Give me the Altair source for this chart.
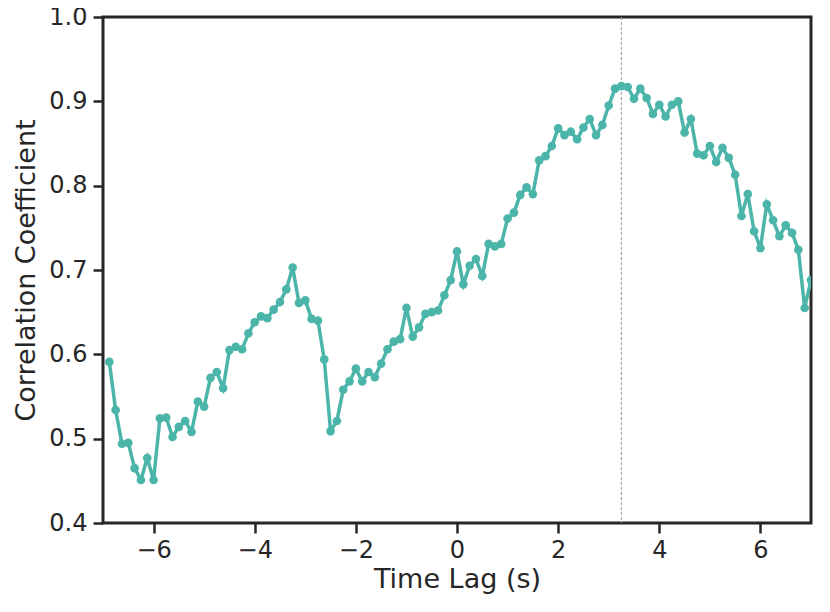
import altair as alt
import pandas as pd

lag_start = -6.875
lag_step = 0.125
corr = [
    0.591, 0.534, 0.494, 0.495, 0.465, 0.451, 0.477, 0.451, 0.524, 0.525,
    0.502, 0.514, 0.521, 0.508, 0.544, 0.538, 0.572, 0.579, 0.560, 0.605,
    0.609, 0.606, 0.625, 0.638, 0.645, 0.643, 0.653, 0.662, 0.677, 0.703,
    0.661, 0.664, 0.642, 0.640, 0.594, 0.509, 0.521, 0.558, 0.568, 0.583,
    0.568, 0.579, 0.573, 0.589, 0.606, 0.615, 0.618, 0.655, 0.621, 0.632,
    0.648, 0.650, 0.652, 0.670, 0.688, 0.722, 0.683, 0.705, 0.713, 0.693,
    0.731, 0.728, 0.731, 0.761, 0.768, 0.789, 0.798, 0.790, 0.830, 0.835,
    0.847, 0.868, 0.860, 0.864, 0.855, 0.869, 0.879, 0.860, 0.872, 0.895,
    0.915, 0.918, 0.917, 0.903, 0.915, 0.904, 0.885, 0.896, 0.882, 0.896,
    0.900, 0.863, 0.879, 0.838, 0.836, 0.847, 0.828, 0.845, 0.833, 0.813,
    0.764, 0.790, 0.746, 0.726, 0.778, 0.759, 0.740, 0.753, 0.744, 0.724,
    0.655, 0.688,
]
lags = [lag_start + lag_step * i for i in range(len(corr))]
peak_lag = [3.25]

df = pd.DataFrame({"lag": lags, "corr": corr})
peak_df = pd.DataFrame({"lag": peak_lag})

teal = "#4cb5aa"
dark = "#262626"

x_scale = alt.Scale(domain=[-7, 7], nice=False, zero=False)
y_scale = alt.Scale(domain=[0.4, 1.0], nice=False, zero=False)

x_axis = alt.Axis(
    title="Time Lag (s)", values=[-6, -4, -2, 0, 2, 4, 6], format="d",
    grid=False, domain=False, labelFontSize=24, titleFontSize=27,
    labelPadding=5, titlePadding=4, tickSize=10, tickWidth=2.5,
    tickColor=dark, labelColor=dark, titleColor=dark, titleFontWeight="normal",
    labelFont="DejaVu Sans", titleFont="DejaVu Sans",
)
y_axis = alt.Axis(
    title="Correlation Coefficient", values=[0.4, 0.5, 0.6, 0.7, 0.8, 0.9, 1.0],
    format=".1f", grid=False, domain=False, labelFontSize=24, titleFontSize=27,
    labelPadding=6, titlePadding=8, tickSize=10, tickWidth=2.5,
    tickColor=dark, labelColor=dark, titleColor=dark, titleFontWeight="normal",
    labelFont="DejaVu Sans", titleFont="DejaVu Sans",
)

line = alt.Chart(df).mark_line(
    color=teal, strokeWidth=3.5, clip=True,
).encode(
    x=alt.X("lag:Q", scale=x_scale, axis=x_axis),
    y=alt.Y("corr:Q", scale=y_scale, axis=y_axis),
)

dots = alt.Chart(df).mark_circle(
    color=teal, size=75, opacity=1, clip=True,
).encode(
    x=alt.X("lag:Q", scale=x_scale),
    y=alt.Y("corr:Q", scale=y_scale),
)

vline = alt.Chart(peak_df).mark_rule(
    color="#999999", strokeWidth=1, strokeDash=[3, 2]
).encode(x=alt.X("lag:Q", scale=x_scale))

chart = alt.layer(vline, line, dots).properties(
    width=708, height=506,
    autosize=alt.AutoSizeParams(type="none"),
    padding={"left": 95, "top": 9, "right": 11, "bottom": 81},
).configure(
    background="white",
    view=alt.ViewConfig(stroke=dark, strokeWidth=3),
)

chart.save("out.html", embed_options={"renderer": "svg", "actions": False})
